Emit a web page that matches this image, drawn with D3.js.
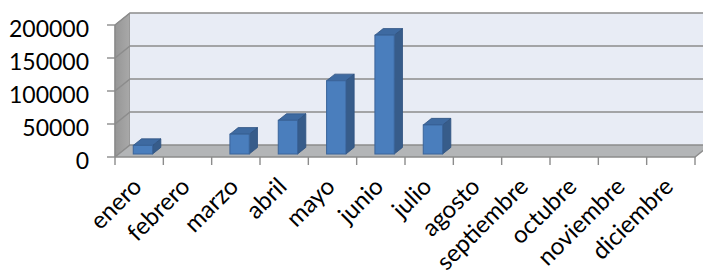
<!DOCTYPE html>
<html>
<head>
<meta charset="utf-8">
<script src="https://cdn.jsdelivr.net/npm/d3@7"></script>
<style>
    html, body { margin: 0; padding: 0; background: #ffffff; }
    svg { display: block; }
    text { font-family: Lato, "Open Sans", sans-serif; fill: #000000; }
</style>
</head>
<body>
<svg id="chart" width="703" height="276"></svg>
<script>
const months = ["enero", "febrero", "marzo", "abril", "mayo", "junio",
    "julio", "agosto", "septiembre", "octubre", "noviembre", "diciembre"]
const totals = [13000, null, 30000, 51000, 111000, 180000, 44000, null, null, null, null, null]
const yTicks = [0, 50000, 100000, 150000, 200000]

const svg = d3.select("#chart")

// front plane of the 3d box, the back plane is shifted by depth
const plotLeft = 115, plotRight = 695, plotBottom = 157, plotTop = 25
const depthX = 15, depthY = -12

const x = d3.scaleBand().domain(months).range([plotLeft, plotRight]).paddingInner(0).paddingOuter(0)
const y = d3.scaleLinear().domain([0, 200000]).range([plotBottom, plotTop])

// project a point given on the front plane back by a fraction of the depth
function proj(px, py, d) {
    return [px + depthX * d, py + depthY * d]
}

function poly(points) {
    return "M" + points.map(p => p.join(",")).join("L") + "Z"
}

const gridColor = "#8c8c8c"

// side wall, a bit darker towards the front edge
const grad = svg.append("defs").append("linearGradient")
    .attr("id", "sideWall")
    .attr("x1", 0).attr("x2", 1).attr("y1", 0).attr("y2", 0)
grad.append("stop").attr("offset", 0).attr("stop-color", "#969696")
grad.append("stop").attr("offset", 1).attr("stop-color", "#a9a9a9")

svg.append("path")
    .attr("d", poly([proj(plotLeft, plotBottom, 0), proj(plotLeft, y(200000), 0), proj(plotLeft, y(200000), 1), proj(plotLeft, plotBottom, 1)]))
    .attr("fill", "url(#sideWall)")
    .attr("stroke", "#8a8a8a")
    .attr("stroke-width", 1)

// back wall
const backTop = proj(plotLeft, y(200000), 1)
svg.append("rect")
    .attr("x", backTop[0])
    .attr("y", backTop[1])
    .attr("width", plotRight - plotLeft)
    .attr("height", plotBottom - y(200000))
    .attr("fill", "#e8ecf5")

// floor
svg.append("path")
    .attr("d", poly([proj(plotLeft, plotBottom, 0), proj(plotRight, plotBottom, 0), proj(plotRight, plotBottom, 1), proj(plotLeft, plotBottom, 1)]))
    .attr("fill", "#b3b5b7")

// gridlines on back wall and side wall
yTicks.forEach(v => {
    const a = proj(plotLeft, y(v), 0), b = proj(plotLeft, y(v), 1), c = proj(plotRight, y(v), 1)
    svg.append("path")
        .attr("d", "M" + a.join(",") + "L" + b.join(",") + "L" + c.join(","))
        .attr("fill", "none")
        .attr("stroke", gridColor)
        .attr("stroke-width", 1.6)
})

// floor front edge + right edge
svg.append("path")
    .attr("d", "M" + proj(plotLeft, plotBottom, 0).join(",") + "L" + proj(plotRight, plotBottom, 0).join(",") + "L" + proj(plotRight, plotBottom, 1).join(","))
    .attr("fill", "none")
    .attr("stroke", gridColor)
    .attr("stroke-width", 1.4)

// y axis line and ticks
svg.append("line")
    .attr("x1", plotLeft).attr("x2", plotLeft)
    .attr("y1", y(200000)).attr("y2", plotBottom)
    .attr("stroke", gridColor).attr("stroke-width", 1.4)

svg.selectAll(".ytick")
    .data(yTicks)
    .join("line")
    .attr("class", "ytick")
    .attr("x1", plotLeft - 8).attr("x2", plotLeft)
    .attr("y1", d => y(d)).attr("y2", d => y(d))
    .attr("stroke", gridColor).attr("stroke-width", 1.4)

svg.selectAll(".ylabel")
    .data(yTicks)
    .join("text")
    .attr("class", "ylabel")
    .attr("x", 89)
    .attr("y", d => y(d) + 11.5)
    .attr("text-anchor", "end")
    .attr("font-size", 23)
    .text(d => d)

// x ticks on the front edge of the floor
const xTickPos = months.map(m => x(m)).concat([plotRight])
svg.selectAll(".xtick")
    .data(xTickPos)
    .join("line")
    .attr("class", "xtick")
    .attr("x1", d => d).attr("x2", d => d)
    .attr("y1", plotBottom).attr("y2", plotBottom + 8)
    .attr("stroke", gridColor).attr("stroke-width", 1.4)

// bars, placed between 25% and 80% of the floor depth
const d0 = 0.25, d1 = 0.8
const barW = x.bandwidth() * 0.4
const barData = months.map((m, i) => ({ month: m, value: totals[i] })).filter(d => d.value !== null)

const bars = svg.append("g").selectAll("g")
    .data(barData)
    .join("g")

bars.each(function (d) {
    const g = d3.select(this)
    const xl = x(d.month) + (x.bandwidth() - barW) / 2
    const xr = xl + barW
    const yv = y(d.value), y0 = y(0)

    // right side
    g.append("path")
        .attr("d", poly([proj(xr, yv, d0), proj(xr, yv, d1), proj(xr, y0, d1), proj(xr, y0, d0)]))
        .attr("fill", "#375c8a")
        .attr("stroke", "#2f5280")
        .attr("stroke-width", 0.8)

    // top
    g.append("path")
        .attr("d", poly([proj(xl, yv, d0), proj(xr, yv, d0), proj(xr, yv, d1), proj(xl, yv, d1)]))
        .attr("fill", "#3e6aa1")
        .attr("stroke", "#2f5280")
        .attr("stroke-width", 0.8)

    // front
    const f = proj(xl, yv, d0)
    g.append("rect")
        .attr("x", f[0])
        .attr("y", f[1])
        .attr("width", barW)
        .attr("height", y0 - yv)
        .attr("fill", "#4a7ebd")
        .attr("stroke", "#3a649a")
        .attr("stroke-width", 1)
})

// rotated month labels
svg.selectAll(".xlabel")
    .data(months)
    .join("text")
    .attr("class", "xlabel")
    .attr("text-anchor", "end")
    .attr("font-size", 24)
    .attr("transform", d => `translate(${x(d) + x.bandwidth() / 2 + 4},188) rotate(-45)`)
    .text(d => d)
</script>
</body>
</html>
